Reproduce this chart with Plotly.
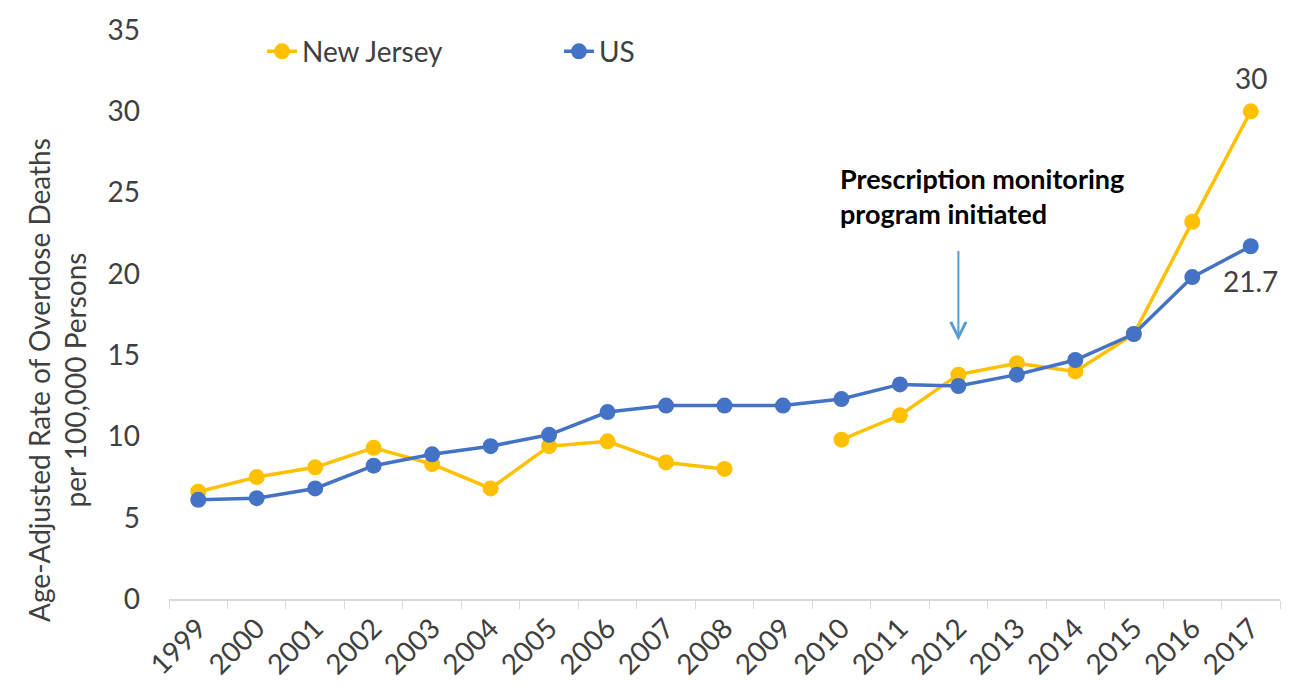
import plotly.graph_objects as go

years = [str(y) for y in range(1999, 2018)]
nj_rate = [6.6, 7.5, 8.1, 9.3, 8.3, 6.8, 9.4, 9.7, 8.4, 8.0, None, 9.8, 11.3, 13.8, 14.5, 14.0, 16.3, 23.2, 30.0]
us_rate = [6.1, 6.2, 6.8, 8.2, 8.9, 9.4, 10.1, 11.5, 11.9, 11.9, 11.9, 12.3, 13.2, 13.1, 13.8, 14.7, 16.3, 19.8, 21.7]
y_ticks = [0, 5, 10, 15, 20, 25, 30, 35]
pmp_year = "2012"
pmp_arrow = (15.9, 21.5)  # arrow tip / tail in y units

NJ_COLOR = "#FFC000"
US_COLOR = "#4472C4"
FONT = "Lato, Carlito, Calibri, sans-serif"
TXT = "#404040"

fig = go.Figure()
fig.add_trace(go.Scatter(
    x=years, y=nj_rate, name="New Jersey", mode="lines+markers",
    line=dict(color=NJ_COLOR, width=3.5), marker=dict(color=NJ_COLOR, size=16),
    connectgaps=False, legend="legend"))
fig.add_trace(go.Scatter(
    x=years, y=us_rate, name="US", mode="lines+markers",
    line=dict(color=US_COLOR, width=3.5), marker=dict(color=US_COLOR, size=16),
    legend="legend2"))

last = len(years) - 1
pmp_idx = years.index(pmp_year)

annotations = [
    dict(x=last, y=nj_rate[-1], xref="x", yref="y", text=f"{nj_rate[-1]:g}", showarrow=False,
         yshift=33, font=dict(size=28, color=TXT, family=FONT)),
    dict(x=last, y=us_rate[-1], xref="x", yref="y", text=f"{us_rate[-1]:g}", showarrow=False,
         yshift=-35, font=dict(size=28, color=TXT, family=FONT)),
    dict(x=pmp_idx, y=pmp_arrow[0], xref="x", yref="y", ax=pmp_idx, ay=pmp_arrow[1],
         axref="x", ayref="y", text="",
         showarrow=True, arrowhead=5, arrowsize=1.5, arrowwidth=2, arrowcolor="#5B9BD5"),
    dict(x=0.602, y=0.708, xref="paper", yref="paper", xanchor="left", yanchor="middle",
         align="left", showarrow=False,
         text="<b>Prescription monitoring<br>program initiated</b>",
         font=dict(size=27, color="#000000", family=FONT)),
    dict(x=-0.1008, y=0.385, xref="paper", yref="paper", textangle=-90,
         xanchor="center", yanchor="middle", showarrow=False,
         text="Age-Adjusted Rate of Overdose Deaths<br>per 100,000 Persons",
         font=dict(size=28, color=TXT, family=FONT)),
]

fig.update_layout(
    width=1294, height=692,
    margin=dict(l=169, r=14, t=23, b=92),
    paper_bgcolor="white", plot_bgcolor="white",
    font=dict(family=FONT, color=TXT, size=28),
    showlegend=True,
    legend=dict(x=0.0837, y=0.962, xanchor="left", yanchor="middle",
                orientation="h", font=dict(size=28, color=TXT, family=FONT),
                bgcolor="rgba(0,0,0,0)"),
    legend2=dict(x=0.351, y=0.962, xanchor="left", yanchor="middle",
                 orientation="h", font=dict(size=28, color=TXT, family=FONT),
                 bgcolor="rgba(0,0,0,0)"),
    annotations=annotations,
    xaxis=dict(type="category", range=[-0.5, 18.5], showgrid=False, zeroline=False,
               showline=True, linecolor="#D9D9D9", linewidth=1.5,
               ticks="outside", tickson="boundaries", ticklen=8, tickcolor="#D9D9D9",
               tickangle=-45, tickfont=dict(size=28, color=TXT, family=FONT)),
    yaxis=dict(range=[0, 35], tickvals=y_ticks, showgrid=False, zeroline=False,
               showline=False, ticks="", ticklabelstandoff=28,
               tickfont=dict(size=28, color=TXT, family=FONT)),
)

fig.write_html("out.html")
